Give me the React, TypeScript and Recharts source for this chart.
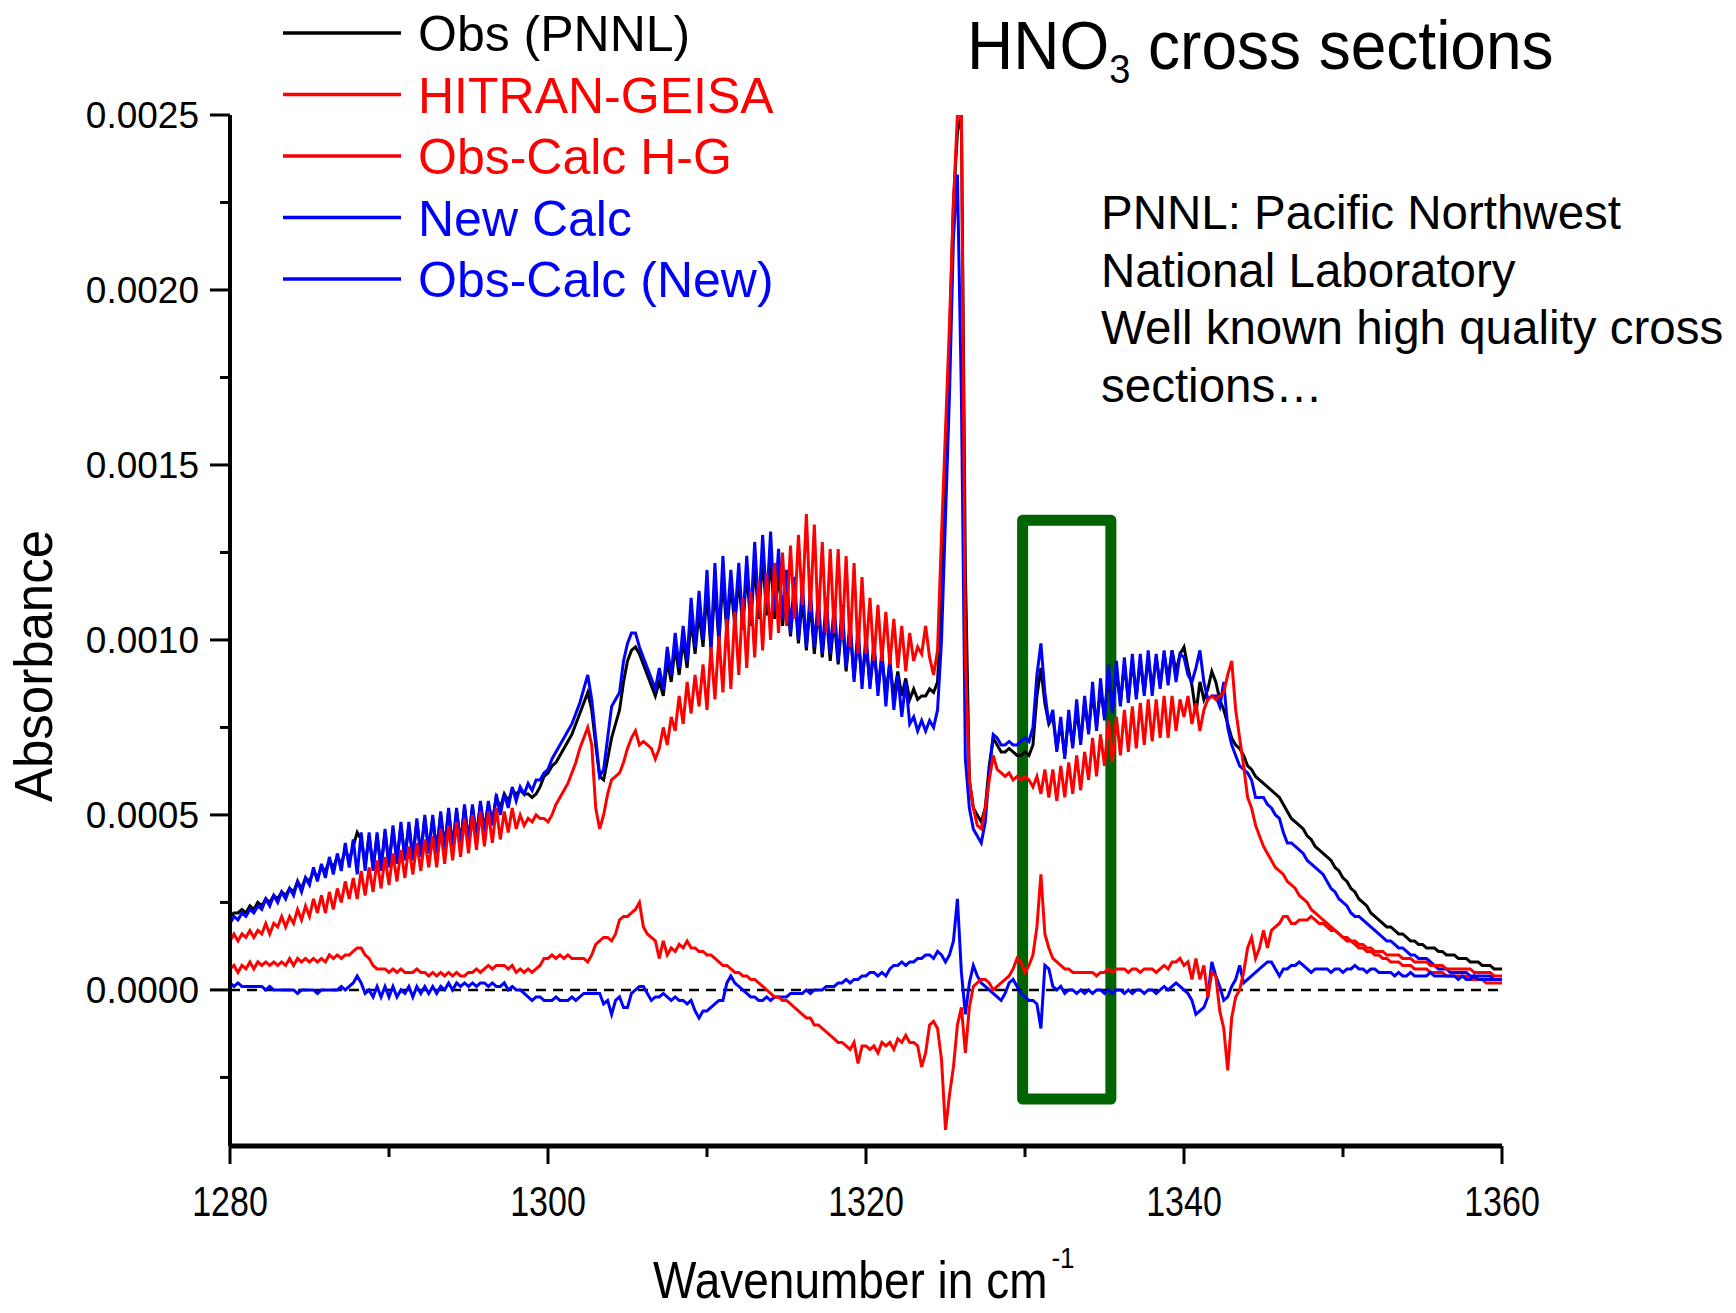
import React from "react";
import { LineChart, Line, XAxis, YAxis, ReferenceLine, ReferenceArea, Legend } from "recharts";

const FONT = "'Liberation Sans', Arial, Helvetica, sans-serif";

// one reading every quarter wavenumber, 1280 .. 1360 cm-1
const WN_START = 1280;
const WN_STEP = 0.25;

// absorbance, in units of 1e-5
const obsPnnl = [
  21,22,22,23, 22,24,23,25, 24,26,25,27, 26,28,27,29, 28,31,29,32, // 1280
  31,34,32,35, 34,37,35,38, 36,40,37,41, 45,43,36,44, 35,44,35,45, // 1285
  36,46,37,47, 38,47,38,48, 39,49,40,49, 40,50,41,51, 41,51,42,52, // 1290
  43,52,44,53, 46,53,48,55, 52,56,54,57, 56,57,56,56, 55,56,58,61, // 1295
  62,64,65,67, 69,71,73,76, 79,82,85,80, 70,61,60,66, 72,76,80,88, // 1300
  94,97,98,96, 93,90,87,84, 88,84,94,88, 98,90,100,92, 106,96,108,98, // 1305
  114,97,116,99, 118,102,116,104, 118,103,120,104, 122,106,124,107, 124,106,120,104, // 1310
  116,101,114,99, 112,97,111,96, 109,95,108,94, 106,93,106,91, 103,89,101,88, // 1315
  99,87,97,86, 95,85,93,84, 91,84,89,83, 86,83,84,84, 86,85,88,110, // 1320
  150,185,225,245, 250,120,60,52, 50,48,52,64, 72,70,68,68, 69,68,67,67, // 1325
  68,67,70,84, 92,82,76,78, 69,76,67,78, 70,80,71,82, 74,85,75,86, // 1330
  78,90,80,91, 82,93,83,94, 84,94,85,95, 86,95,87,96, 89,97,91,96, // 1335
  98,92,87,79, 88,83,86,91, 88,83,80,76, 72,70,69,67, 64,63,61,60, // 1340
  59,58,57,56, 55,53,51,49, 48,47,46,44, 43,41,40,39, 38,37,35,34, // 1345
  32,31,29,28, 26,25,24,22, 21,20,19,18, 18,17,16,16, 15,14,14,13, // 1350
  13,12,12,12, 11,11,10,10, 10,9,9,9, 8,8,8,7, 7,7,6,6, // 1355
  6,
];

const hitranGeisa = [
  14,16,14,16, 15,17,15,17, 16,19,16,19, 18,21,18,21, 19,23,20,24,
  21,26,22,27, 22,28,23,29, 25,31,26,32, 26,34,27,35, 28,37,29,38,
  30,39,31,40, 32,41,33,42, 34,43,35,44, 35,46,36,47, 37,48,38,49,
  39,50,40,51, 41,51,42,52, 43,51,45,52, 46,50,47,49, 48,50,49,49,
  48,50,53,55, 57,59,62,65, 69,72,75,70, 52,46,50,56, 60,61,62,65,
  69,72,74,70, 71,70,69,66, 69,75,70,78, 74,84,76,88, 79,90,81,93,
  80,98,83,101, 85,106,86,108, 90,112,92,114, 95,117,97,119, 100,122,102,125,
  104,127,106,130, 110,136,108,133, 104,128,102,126, 102,126,100,124, 98,122,96,118,
  96,112,94,110, 94,108,93,106, 92,104,91,102, 94,98,96,104, 95,90,97,130,
  160,190,225,250, 250,95,60,52, 47,46,52,60, 67,63,62,61, 62,60,61,60,
  61,60,58,61, 56,63,55,63, 54,64,55,65, 56,67,57,68, 60,72,61,73,
  64,77,65,78, 67,80,68,81, 69,82,70,83, 71,83,72,84, 72,84,74,83,
  78,84,76,82, 74,80,83,84, 83,84,85,90, 94,80,72,64, 55,52,47,44,
  41,39,37,35, 34,33,31,30, 29,27,26,25, 23,22,21,20, 19,18,17,16,
  15,14,14,13, 12,12,11,11, 10,10,9,9, 8,8,8,7, 7,7,6,6,
  6,6,5,5, 5,5,4,4, 4,4,4,4, 3,3,3,3, 2,2,2,2,
  2,
];

const obsCalcHG = [
  6,7,5,7, 6,8,6,8, 7,8,7,8, 7,8,7,9, 7,9,8,9,
  8,9,8,9, 8,10,9,10, 9,10,10,11, 12,12,10,9, 7,6,6,6,
  5,6,5,6, 5,5,5,6, 5,5,4,5, 4,5,4,5, 4,5,4,4,
  5,5,6,5, 6,7,6,7, 7,7,6,7, 5,6,5,6, 5,6,7,9,
  9,10,9,10, 9,10,9,9, 9,9,8,10, 13,14,15,15, 14,16,20,21,
  21,22,23,25, 18,16,15,14, 9,14,10,12, 11,13,12,14, 12,12,11,11,
  10,10,9,8, 7,7,6,5, 5,4,4,3, 3,2,1,0, -1,-2,-2,-3,
  -3,-4,-5,-6, -7,-8,-8,-10, -10,-11,-12,-13, -14,-15,-15,-16, -17,-15,-21,-16,
  -16,-17,-16,-18, -15,-16,-15,-17, -14,-15,-13,-15, -15,-16,-22,-18, -10,-9,-11,-20,
  -40,-30,-22,-10, -5,-18,-5,1, 2,3,3,2, 0,1,2,3, 4,6,9,8,
  5,7,10,18, 33,16,12,9, 8,7,6,6, 5,5,5,5, 5,5,4,5,
  5,6,5,6, 6,6,5,6, 6,5,6,6, 6,5,6,7, 6,8,8,9,
  7,8,3,9, 3,7,-2,5, 4,-6,-11,-23, -8,-2,0,5, 12,15,9,12,
  17,12,17,18, 19,21,21,19, 19,20,20,20, 21,20,19,19, 18,17,17,16,
  15,15,14,14, 13,13,12,12, 11,11,11,10, 10,10,10,9, 9,9,8,8,
  8,8,7,7, 7,7,6,6, 6,6,6,6, 6,5,5,5, 5,5,4,4,
  4,
];

const newCalc = [
  19,21,20,22, 21,23,22,24, 23,26,24,27, 25,28,26,29, 27,31,28,32,
  30,35,31,36, 32,38,33,39, 34,42,35,43, 33,45,34,45, 34,45,34,46,
  35,47,36,48, 37,48,37,49, 38,50,39,50, 39,51,40,52, 40,52,41,53,
  42,53,43,54, 45,54,47,56, 50,56,52,58, 54,58,56,59, 57,60,60,62,
  63,66,68,70, 72,74,76,79, 82,86,90,83, 72,61,63,72, 81,83,85,94,
  99,102,102,98, 95,92,89,86, 92,86,98,90, 102,92,104,94, 112,98,114,100,
  120,98,122,100, 124,104,120,106, 122,104,124,106, 128,108,130,110, 131,108,126,106,
  120,102,118,100, 116,98,114,98, 112,96,112,96, 110,94,110,92, 106,88,104,86,
  102,86,100,84, 97,81,95,80, 90,78,88,76, 78,74,77,74, 77,75,80,100,
  135,170,215,233, 170,66,52,46, 44,42,48,62, 73,72,70,70, 71,70,70,71,
  72,71,75,90, 99,85,76,80, 68,78,66,80, 69,83,70,84, 73,88,74,89,
  77,93,79,94, 81,95,82,96, 83,96,84,97, 84,96,86,97, 87,97,88,96,
  95,90,88,92, 97,88,83,84, 84,81,88,75, 70,67,64,63, 62,60,55,55,
  55,53,52,50, 49,45,42,42, 41,40,39,37, 36,35,34,33, 31,29,28,26,
  25,24,22,21, 21,20,19,18, 17,16,15,14, 14,13,12,12, 11,10,10,9,
  9,9,8,7, 6,6,6,5, 5,5,5,5, 4,4,4,4, 4,4,3,3,
  3,
];

const obsCalcNew = [
  2,1,2,1, 1,1,1,1, 1,0,1,0, 0,0,0,0, 0,-1,0,0,
  0,0,-1,0, 0,0,0,0, 1,0,1,2, 4,2,-1,0, -2,1,-2,1,
  -2,1,-2,0, -1,1,-2,1, -1,1,-1,1, -1,1,0,2, 0,2,1,2,
  1,2,1,2, 2,1,2,1, 1,2,0,1, 0,0,-1,-2, -3,-2,-2,-3,
  -3,-3,-2,-3, -3,-3,-2,-3, -2,-1,-1,-1, -1,-1,-4,-3, -7,-3,-2,-5,
  -5,-1,0,1, 1,-1,-3,-2, -2,-1,-2,-3, -2,-3,-3,-4, -3,-6,-8,-6,
  -6,-5,-4,-3, -3,2,4,2, 1,0,-1,-2, -2,-3,-3,-2, -3,-2,-2,-2,
  -2,-1,-1,-1, -1,0,-1,0, 0,0,1,1, 1,2,2,3, 2,3,3,4,
  4,5,5,4, 5,4,6,7, 7,8,7,8, 8,9,9,10, 10,9,11,10,
  8,10,14,26, 5,-7,2,7, 4,2,1,0, -1,-2,-3,-1, 2,3,1,-1,
  -2,-3,-3,-4, -11,7,6,1, 0,1,-1,0, 0,-1,0,-1, 0,-1,0,0,
  -1,0,-1,0, 0,-1,0,-1, 0,0,-1,0, 0,-1,0,1, 0,1,2,1,
  0,-1,-3,-7, -6,-5,-2,8, 4,1,-3,-2, 1,3,7,2, 3,4,5,6,
  7,8,8,6, 4,6,6,7, 7,8,7,6, 5,6,6,6, 6,5,6,6,
  5,6,6,7, 6,6,5,6, 6,5,5,5, 5,4,5,4, 4,5,4,4,
  4,4,5,4, 4,4,4,4, 4,3,4,3, 3,4,3,3, 3,3,3,3,
  3,
];

const xTicks = [1280, 1290, 1300, 1310, 1320, 1330, 1340, 1350, 1360];
const yTicks = [
  -0.00025, 0, 0.00025, 0.0005, 0.00075, 0.001, 0.00125,
  0.0015, 0.00175, 0.002, 0.00225, 0.0025,
];

const LEGEND_ORDER = ["Obs (PNNL)", "HITRAN-GEISA", "Obs-Calc H-G", "New Calc", "Obs-Calc (New)"];
const NOTE_LINES = ["PNNL: Pacific Northwest", "National Laboratory", "Well known high quality cross", "sections…"];

// highlighted window (green box)
const BOX_X = [1329.85, 1335.4];
const BOX_Y = [-0.000312, 0.001342];

const data = obsPnnl.map((v, i) => ({
  wn: WN_START + i * WN_STEP,
  obs: v / 1e5,
  hg: hitranGeisa[i] / 1e5,
  dhg: obsCalcHG[i] / 1e5,
  newc: newCalc[i] / 1e5,
  dnew: obsCalcNew[i] / 1e5,
}));

function XTick({ x, y, payload }: any) {
  const major = payload.value % 20 === 0;
  return (
    <g>
      <line x1={x} x2={x} y1={y} y2={y + (major ? 18 : 11)} stroke="#000" strokeWidth={3} />
      {major && (
        <text
          transform={`translate(${x},${y + 70}) scale(1,1.27)`}
          textAnchor="middle"
          fontSize={34}
          fontFamily={FONT}
          fill="#000"
        >
          {payload.value}
        </text>
      )}
    </g>
  );
}

function YTick({ x, y, payload }: any) {
  const major = Math.round(payload.value * 1e5) % 50 === 0;
  return (
    <g>
      <line x1={x - (major ? 20 : 10)} x2={x} y1={y} y2={y} stroke="#000" strokeWidth={3} />
      {major && (
        <text x={x - 31} y={y} dy="0.36em" textAnchor="end" fontSize={37} fontFamily={FONT} fill="#000">
          {payload.value.toFixed(4)}
        </text>
      )}
    </g>
  );
}

function LegendBox({ payload }: any) {
  const items = LEGEND_ORDER.map((n) => (payload || []).find((p: any) => p.value === n)).filter(Boolean);
  return (
    <svg width={520} height={310}>
      {items.map((p: any, i: number) => {
        const cy = 33 + i * 61.5;
        return (
          <g key={p.value}>
            <line x1={0} x2={118} y1={cy} y2={cy} stroke={p.color} strokeWidth={3.5} />
            <text x={135} y={cy} dy="0.36em" fill={p.color} fontSize={50} fontFamily={FONT}>
              {p.value}
            </text>
          </g>
        );
      })}
    </svg>
  );
}

export default function App() {
  return (
    <div style={{ position: "absolute", left: 0, top: 0, width: 1736, height: 1313, background: "#fff" }}>
      <LineChart
        width={1736}
        height={1313}
        data={data}
        margin={{ top: 115, right: 234, bottom: 117, left: 180 }}
      >
        <XAxis
          dataKey="wn"
          type="number"
          domain={[1280, 1360]}
          ticks={xTicks}
          interval={0}
          height={50}
          tickSize={0}
          tickMargin={0}
          tickLine={false}
          tick={<XTick />}
          axisLine={{ stroke: "#000", strokeWidth: 5 }}
          allowDataOverflow
        />
        <YAxis
          type="number"
          domain={[-0.000446, 0.0025]}
          ticks={yTicks}
          interval={0}
          width={50}
          tickSize={0}
          tickMargin={0}
          tickLine={false}
          tick={<YTick />}
          axisLine={{ stroke: "#000", strokeWidth: 4 }}
          allowDataOverflow
        />
        <ReferenceLine y={0} stroke="#000" strokeWidth={2.5} strokeDasharray="10 7" />
        <Line type="linear" dataKey="obs" name="Obs (PNNL)" stroke="#000000" strokeWidth={3} dot={false} isAnimationActive={false} />
        <Line type="linear" dataKey="newc" name="New Calc" stroke="#0000ff" strokeWidth={3} dot={false} isAnimationActive={false} />
        <Line type="linear" dataKey="hg" name="HITRAN-GEISA" stroke="#ff0000" strokeWidth={3} dot={false} isAnimationActive={false} />
        <Line type="linear" dataKey="dnew" name="Obs-Calc (New)" stroke="#0000ff" strokeWidth={3} dot={false} isAnimationActive={false} />
        <Line type="linear" dataKey="dhg" name="Obs-Calc H-G" stroke="#ff0000" strokeWidth={3} dot={false} isAnimationActive={false} />
        <ReferenceArea
          x1={BOX_X[0]}
          x2={BOX_X[1]}
          y1={BOX_Y[0]}
          y2={BOX_Y[1]}
          fill="none"
          fillOpacity={0}
          stroke="#006400"
          strokeWidth={11}
          strokeLinejoin="round"
          ifOverflow="visible"
        />
        <Legend
          layout="vertical"
          align="center"
          verticalAlign="middle"
          content={<LegendBox />}
          wrapperStyle={{ left: 283, top: 0, width: 520, height: 310 }}
        />
      </LineChart>

      <svg
        width={1736}
        height={1313}
        style={{ position: "absolute", left: 0, top: 0, pointerEvents: "none" }}
      >
        <text transform="translate(967,69) scale(1,1.07)" fontSize={64} fontFamily={FONT} fill="#000">
          HNO<tspan fontSize={38} dy={13}>3</tspan>
          <tspan dy={-13}> cross sections</tspan>
        </text>
        {NOTE_LINES.map((t, i) => (
          <text key={t} x={1101} y={229 + i * 57.6} fontSize={47.5} fontFamily={FONT} fill="#000">
            {t}
          </text>
        ))}
        <text
          transform="translate(52,666) rotate(-90) scale(1,1.06)"
          textAnchor="middle"
          fontSize={51}
          fontFamily={FONT}
          fill="#000"
        >
          Absorbance
        </text>
        <text transform="translate(653,1298) scale(1,1.12)" fontSize={46} fontFamily={FONT} fill="#000">
          Wavenumber in cm
          <tspan fontSize={26} dx={4} dy={-27}>-1</tspan>
        </text>
      </svg>
    </div>
  );
}
